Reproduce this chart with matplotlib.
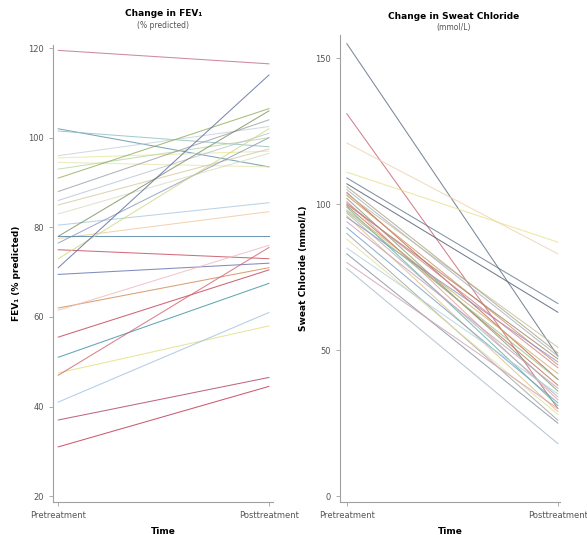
import matplotlib
matplotlib.use("Agg")
import matplotlib.pyplot as plt

# ----------------------------------------------------
# DATA
# ----------------------------------------------------

time_labels = ["Pretreatment", "Posttreatment"]

fev_pre = [119.5, 102, 101.5, 96, 95.5, 94.5, 93, 91, 88, 86, 85, 83, 80.5, 78,
           77.5, 78, 76.5, 75, 73, 71, 69.5, 62, 61.5, 55.5, 51, 47.5, 47, 41, 37, 31]
fev_post = [116.5, 93.5, 98, 102.5, 97, 93.5, 100, 106.5, 104, 101, 97.5, 96.5, 85.5, 106,
            83.5, 78, 100, 73, 102, 114, 72, 71, 76, 70.5, 67.5, 58, 75.5, 61, 46.5, 44.5]
fev_colors = ["#c46a8a", "#5a8fa8", "#8fbfbf", "#c8d0dc", "#e8e8a0", "#e6e6b0", "#b8d8a0",
              "#8fae5a", "#9aa0a8", "#b8c4d4", "#d8c8a0", "#d8dcc0", "#a8c8e0", "#7c8f60",
              "#f0c8a0", "#4a7ea0", "#8898b8", "#c44a5a", "#d0d880", "#5a6aa0", "#6070b0",
              "#d08a50", "#f0b8c0", "#c04050", "#3a90a0", "#e0e080", "#d06070", "#a0c0e0",
              "#b04060", "#c03050"]

cl_pre = [155, 131, 121, 111, 109, 107, 105, 104, 103, 102, 101, 100, 99.5, 99, 98,
          97, 96, 95.5, 94, 92, 90, 88, 85, 83, 80, 78, 97.5, 103.5, 100.5, 106]
cl_post = [48, 30, 83, 87, 66, 63, 48, 40, 45, 36, 33, 47, 38, 31, 42,
           34, 29, 46, 37, 32, 26, 28, 35, 25, 30, 18, 40, 51, 44, 49]
cl_colors = ["#5a6a80", "#c86070", "#f0d0b0", "#e8e090", "#607890", "#505a70", "#a0b0c0",
             "#c06040", "#d09060", "#80a070", "#e0a0a0", "#a08060", "#c07050", "#60b0a0",
             "#d0b070", "#b0b0b0", "#e0c080", "#9090c0", "#c0a0c0", "#70a0c0", "#a0a0a0",
             "#e0e0a0", "#b0d0e0", "#8090a0", "#d0a0b0", "#a8b8c8", "#90c090", "#c0c0a0",
             "#d08090", "#b0a080"]

fev_ticks = [20, 40, 60, 80, 100, 120]
cl_ticks = [0, 50, 100, 150]

plt.rcParams.update({"font.family": "DejaVu Sans", "font.size": 6})

fig = plt.figure(figsize=(5.87, 5.35), dpi=100)
ax1 = fig.add_axes([0.0903, 0.0617, 0.375, 0.855])
ax2 = fig.add_axes([0.579, 0.0617, 0.375, 0.873])


def style(ax):
    for s in ["top", "right"]:
        ax.spines[s].set_visible(False)
    for s in ["left", "bottom"]:
        ax.spines[s].set_color("#a0a0a0")
        ax.spines[s].set_linewidth(0.8)
    ax.tick_params(colors="#a0a0a0", labelcolor="#555555", length=3, width=0.6,
                   labelsize=6)
    ax.set_xticks([0, 1])
    ax.set_xticklabels(time_labels)
    ax.set_xlabel("Time", fontweight="bold", fontsize=6.5, labelpad=5)


for a, b, c in zip(fev_pre, fev_post, fev_colors):
    ax1.plot([0, 1], [a, b], color=c, lw=0.75, alpha=0.8)
ax1.set_xlim(-0.025, 1.02)
ax1.set_ylim(18.7, 120.8)
ax1.set_yticks(fev_ticks)
style(ax1)
ax1.set_ylabel("FEV\u2081 (% predicted)", fontweight="bold", fontsize=6.5, labelpad=5)

for a, b, c in zip(cl_pre, cl_post, cl_colors):
    ax2.plot([0, 1], [a, b], color=c, lw=0.75, alpha=0.8)
ax2.set_xlim(-0.033, 1.01)
ax2.set_ylim(-2, 158)
ax2.set_yticks(cl_ticks)
style(ax2)
ax2.set_ylabel("Sweat Chloride (mmol/L)", fontweight="bold", fontsize=6.5, labelpad=5)

# titles with subtitles
fig.text(0.278, 0.974, "Change in FEV\u2081", ha="center", va="center",
         fontweight="bold", fontsize=6.5)
fig.text(0.278, 0.953, "(% predicted)", ha="center", va="center", fontsize=5.5,
         color="#555555")
fig.text(0.772, 0.970, "Change in Sweat Chloride", ha="center", va="center",
         fontweight="bold", fontsize=6.5)
fig.text(0.772, 0.949, "(mmol/L)", ha="center", va="center", fontsize=5.5,
         color="#555555")

fig.savefig("out.png", dpi=100)
